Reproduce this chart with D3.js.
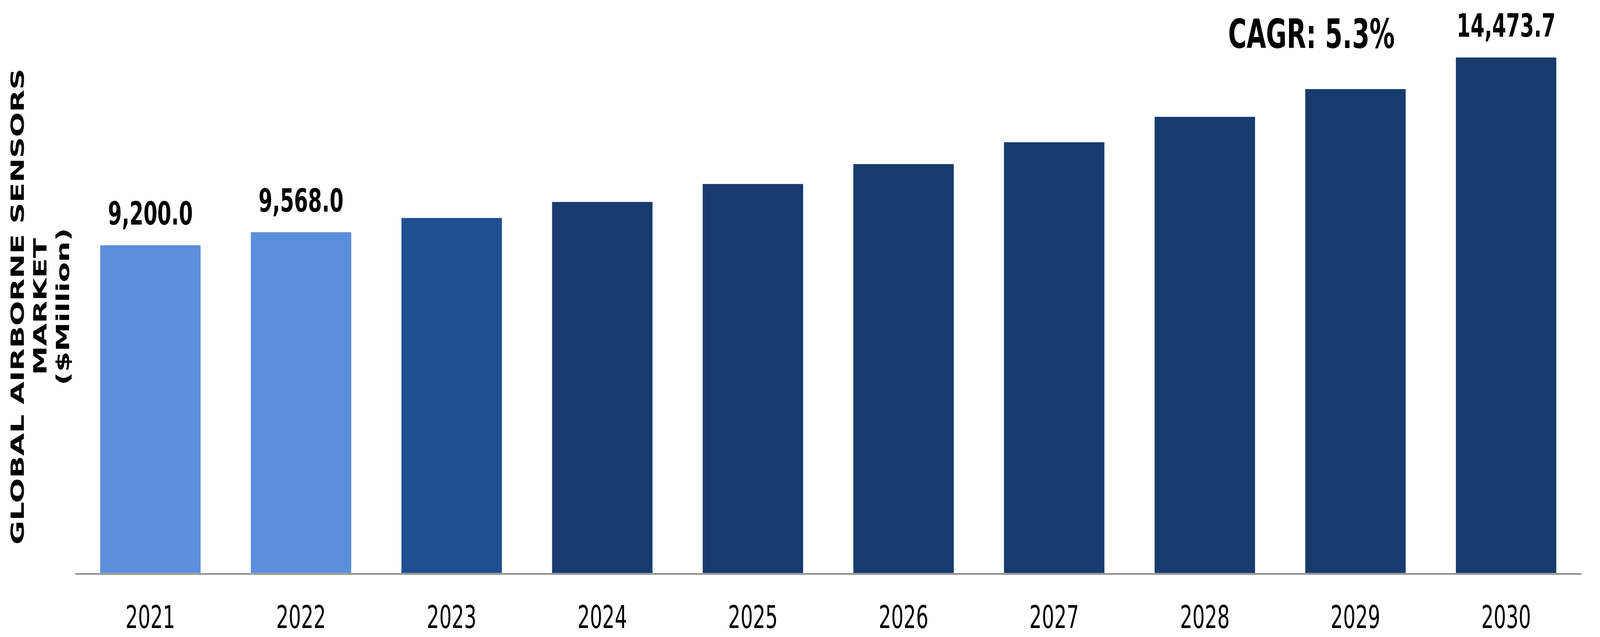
<!DOCTYPE html>
<html>
<head>
<meta charset="utf-8">
<script src="https://cdnjs.cloudflare.com/ajax/libs/d3/7.8.5/d3.min.js"></script>
<style>
  html, body { margin: 0; padding: 0; background: #fff; overflow: hidden; }
  svg { display: block; font-family: "DejaVu Sans", Verdana, sans-serif; }
</style>
</head>
<body>
<script>
// chart data
var years = ["2021", "2022", "2023", "2024", "2025", "2026", "2027", "2028", "2029", "2030"];
var values = [9200.0, 9568.0, 9967, 10417, 10921, 11480, 12094, 12807, 13586, 14473.7];
var labelledYears = ["2021", "2022", "2030"];   // only these bars carry a value label
var cagrText = "CAGR: 5.3%";
var titleLines = ["GLOBAL AIRBORNE SENSORS", "MARKET", "($Million)"];

var W = 6543, H = 1631;
var baseY = 1467;

// drawn in a fixed 6543x1631 space and stretched to fill the window
var svg = d3.select("body").append("svg")
    .attr("viewBox", "0 0 " + W + " " + H)
    .attr("preserveAspectRatio", "none")
    .style("width", "100vw")
    .style("height", "100vh");

var x = d3.scaleBand()
    .domain(years)
    .range([307, 6467])
    .paddingInner(1 / 3)
    .paddingOuter(1 / 6);

var y = d3.scaleLinear()
    .domain([0, 16000])
    .range([baseY, 8]);

// light blue for actuals, mid blue for base year, dark for forecast
function barColor(d, i) {
    if (i < 2) return "#5b8fdb";
    if (i === 2) return "#1f4f91";
    return "#183b6e";
}

var data = years.map(function(yr, i) { return { year: yr, value: values[i] }; });

svg.selectAll("rect.bar")
    .data(data)
    .enter()
    .append("rect")
    .attr("class", "bar")
    .attr("x", function(d) { return x(d.year); })
    .attr("y", function(d) { return y(d.value); })
    .attr("width", x.bandwidth())
    .attr("height", function(d) { return baseY - y(d.value); })
    .attr("fill", barColor);

// x axis: grey baseline, no ticks
var axis = svg.append("g")
    .attr("transform", "translate(0," + (baseY + 2) + ")")
    .call(d3.axisBottom(x).tickSize(0).tickSizeOuter(0));

axis.select(".domain")
    .attr("stroke", "#898989")
    .attr("stroke-width", 4);

axis.selectAll(".tick text")
    .attr("y", 139)
    .attr("dy", null)
    .attr("fill", "#000")
    .style("font-family", "'DejaVu Sans', Verdana, sans-serif")
    .style("font-size", "80px");

// value labels over selected bars
var fmt = d3.format(",.1f");
svg.selectAll("text.value")
    .data(data.filter(function(d) { return labelledYears.indexOf(d.year) >= 0; }))
    .enter()
    .append("text")
    .attr("class", "value")
    .attr("x", function(d) { return x(d.year) + x.bandwidth() / 2; })
    .attr("y", function(d) { return y(d.value) - 53; })
    .attr("text-anchor", "middle")
    .style("font-size", "82px")
    .style("font-weight", "bold")
    .text(function(d) { return fmt(d.value); });

// CAGR callout, centred over the gap before the 2029 bar
svg.append("text")
    .attr("x", 5363)
    .attr("y", 123)
    .attr("text-anchor", "middle")
    .style("font-size", "103px")
    .style("font-weight", "bold")
    .text(cagrText);

// rotated y title, three lines
var title = svg.append("text")
    .attr("transform", "translate(0,785) rotate(-90)")
    .attr("text-anchor", "middle")
    .style("font-size", "75px")
    .style("font-weight", "bold");

title.selectAll("tspan")
    .data(titleLines)
    .enter()
    .append("tspan")
    .attr("x", 0)
    .attr("y", function(d, i) { return 98 + i * 92; })
    .text(function(d) { return d; });
</script>
</body>
</html>
